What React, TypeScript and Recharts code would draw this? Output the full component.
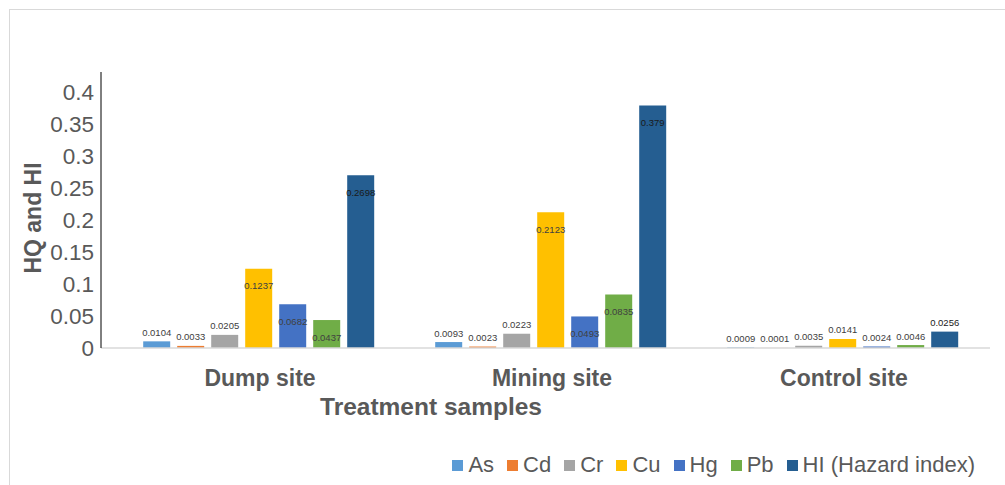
import { Bar, BarChart, Label, LabelList, Legend, XAxis, YAxis } from "recharts";

const categories = ["Dump site", "Mining site", "Control site"];
const asValues = [0.0104, 0.0093, 0.0009];
const cdValues = [0.0033, 0.0023, 0.0001];
const crValues = [0.0205, 0.0223, 0.0035];
const cuValues = [0.1237, 0.2123, 0.0141];
const hgValues = [0.0682, 0.0493, 0.0024];
const pbValues = [0.0437, 0.0835, 0.0046];
const hiValues = [0.2698, 0.379, 0.0256];
const yTicks = [0, 0.05, 0.1, 0.15, 0.2, 0.25, 0.3, 0.35, 0.4];

const series = [
  { key: "As", name: "As", color: "#5B9BD5", values: asValues },
  { key: "Cd", name: "Cd", color: "#ED7D31", values: cdValues },
  { key: "Cr", name: "Cr", color: "#A5A5A5", values: crValues },
  { key: "Cu", name: "Cu", color: "#FFC000", values: cuValues },
  { key: "Hg", name: "Hg", color: "#4472C4", values: hgValues },
  { key: "Pb", name: "Pb", color: "#70AD47", values: pbValues },
  { key: "HI", name: "HI (Hazard index)", color: "#255E91", values: hiValues },
];

const chartData = categories.map((name, i) => {
  const row: Record<string, string | number> = { name };
  series.forEach((s) => {
    row[s.key] = s.values[i];
  });
  return row;
});

const FONT = "'Liberation Sans', Arial, sans-serif";
const GREY = "#595959";

function makeValueLabel(dark: boolean) {
  return (props: any) => {
    const { x, y, width, value } = props;
    const v = Number(value);
    const inside = v >= 0.04;
    const cy = inside ? Number(y) + 18 : Number(y) - 8;
    return (
      <text
        x={Number(x) + Number(width) / 2}
        y={cy}
        textAnchor="middle"
        dominantBaseline="middle"
        fontSize={9.5}
        fontFamily={FONT}
        fill={dark ? "#1a1a1a" : "#404040"}
      >
        {String(value)}
      </text>
    );
  };
}

function LegendRow() {
  return (
    <div style={{ display: "flex", alignItems: "center", fontFamily: FONT, fontSize: 22, color: GREY }}>
      {series.map((s, i) => (
        <div key={s.key} style={{ display: "flex", alignItems: "center", marginLeft: i === 0 ? 0 : 13 }}>
          <span style={{ width: 11, height: 11, background: s.color, display: "inline-block", marginRight: 5 }} />
          <span>{s.name}</span>
        </div>
      ))}
    </div>
  );
}

export default function App() {
  return (
    <div style={{ position: "absolute", left: 0, top: 0, width: 1005, height: 485, overflow: "hidden", background: "#fff" }}>
      <div
        style={{
          position: "absolute",
          left: 9,
          top: 9,
          width: 1100,
          height: 600,
          border: "1px solid #d9d9d9",
        }}
      />
      <BarChart
        width={1005}
        height={485}
        data={chartData}
        margin={{ top: 72, right: 15, left: 0, bottom: 97 }}
        barCategoryGap="10%"
        barGap={7}
        style={{ position: "absolute", left: 0, top: 0 }}
      >
        <XAxis
          dataKey="name"
          padding={{ left: 13, right: 0 }}
          axisLine={{ stroke: "#d9d9d9", strokeWidth: 1.5 }}
          tickLine={false}
          tickSize={0}
          tickMargin={22}
          height={40}
          tick={{ fill: GREY, fontSize: 23, fontWeight: "bold", fontFamily: FONT }}
        >
          <Label
            content={() => (
              <text x={431} y={415} textAnchor="middle" fontSize={24.5} fontWeight="bold" fontFamily={FONT} fill={GREY}>
                Treatment samples
              </text>
            )}
          />
        </XAxis>
        <YAxis
          width={101}
          domain={[0, 0.43125]}
          ticks={yTicks}
          axisLine={{ stroke: "#000", strokeWidth: 1 }}
          tickLine={false}
          tickSize={0}
          tickMargin={7}
          tick={{ fill: GREY, fontSize: 22.5, fontFamily: FONT }}
          tickFormatter={(v: number) => String(v)}
        >
          <Label
            content={() => (
              <text
                transform="translate(41,218) rotate(-90)"
                textAnchor="middle"
                fontSize={23}
                fontWeight="bold"
                fontFamily={FONT}
                fill={GREY}
              >
                HQ  and HI
              </text>
            )}
          />
        </YAxis>
        <Legend
          layout="horizontal"
          verticalAlign="middle"
          align="center"
          content={<LegendRow />}
          wrapperStyle={{ top: 452, right: 30, left: "auto", width: "auto" }}
        />
        {series.map((s) => (
          <Bar key={s.key} dataKey={s.key} name={s.name} fill={s.color} isAnimationActive={false}>
            <LabelList dataKey={s.key} content={makeValueLabel(s.key === "HI")} />
          </Bar>
        ))}
      </BarChart>
    </div>
  );
}
